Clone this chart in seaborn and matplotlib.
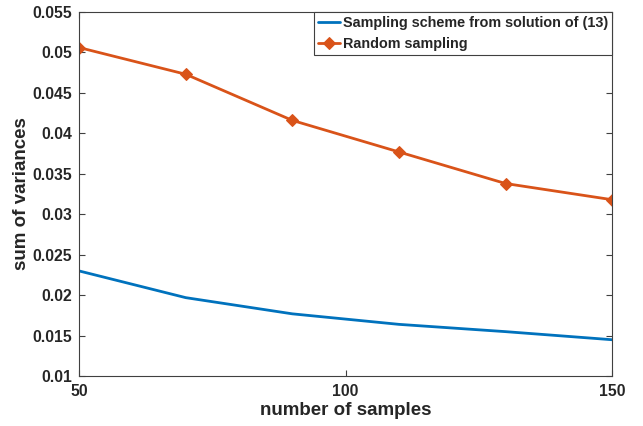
import numpy as np
import pandas as pd
import matplotlib
matplotlib.use("Agg")
import matplotlib.pyplot as plt
import seaborn as sns

# values
n_samples = [50, 70, 90, 110, 130, 150]
optimal_var = [0.0230, 0.0197, 0.0177, 0.0164, 0.0155, 0.0145]
random_var = [0.0506, 0.0473, 0.0416, 0.0377, 0.0338, 0.0318]

sns.set_style("ticks")
plt.rcParams['font.family'] = ['Liberation Sans', 'DejaVu Sans']
plt.rcParams['font.weight'] = 'bold'

fig = plt.figure(figsize=(6.43, 4.26), dpi=100)
ax = fig.add_axes([0.123, 0.117, 0.829, 0.855])

df = pd.DataFrame({"n": n_samples, "opt": optimal_var, "rnd": random_var})
sns.lineplot(data=df, x="n", y="opt", ax=ax, color="#0072BD", linewidth=2,
             label="Sampling scheme from solution of (13)")
sns.lineplot(data=df, x="n", y="rnd", ax=ax, color="#D95319", linewidth=2,
             marker="D", markersize=6, markeredgecolor="#D95319",
             label="Random sampling")

ax.set_xlim(50, 150)
ax.set_ylim(0.01, 0.055)
ax.set_xticks([50, 100, 150])
ax.set_yticks(np.arange(0.01, 0.0551, 0.005))
ax.set_yticklabels(["0.01", "0.015", "0.02", "0.025", "0.03", "0.035",
                    "0.04", "0.045", "0.05", "0.055"])
ax.tick_params(direction="in", top=True, right=True, labelsize=11.3,
               length=4, width=0.8, color="#404040", labelcolor="#262626")
ax.tick_params(axis="x", pad=6)
ax.tick_params(axis="y", pad=5)
for lab in ax.get_xticklabels() + ax.get_yticklabels():
    lab.set_fontweight("bold")
for s in ax.spines.values():
    s.set_visible(True)
    s.set_color("#404040")
    s.set_linewidth(0.8)

ax.set_xlabel("number of samples", fontsize=13.5, fontweight="bold",
              color="#262626", labelpad=2)
ax.set_ylabel("sum of variances", fontsize=13.5, fontweight="bold",
              color="#262626", labelpad=2)

leg = ax.legend(loc="upper right", frameon=True, fancybox=False,
                handlelength=1.5, handletextpad=0.2, borderpad=0.3,
                labelspacing=0.45, borderaxespad=0.0,
                prop={"weight": "bold", "size": 10.4})
leg.get_frame().set_edgecolor("#404040")
leg.get_frame().set_linewidth(0.8)
leg.get_frame().set_alpha(1)

fig.savefig("out.png", dpi=100)
